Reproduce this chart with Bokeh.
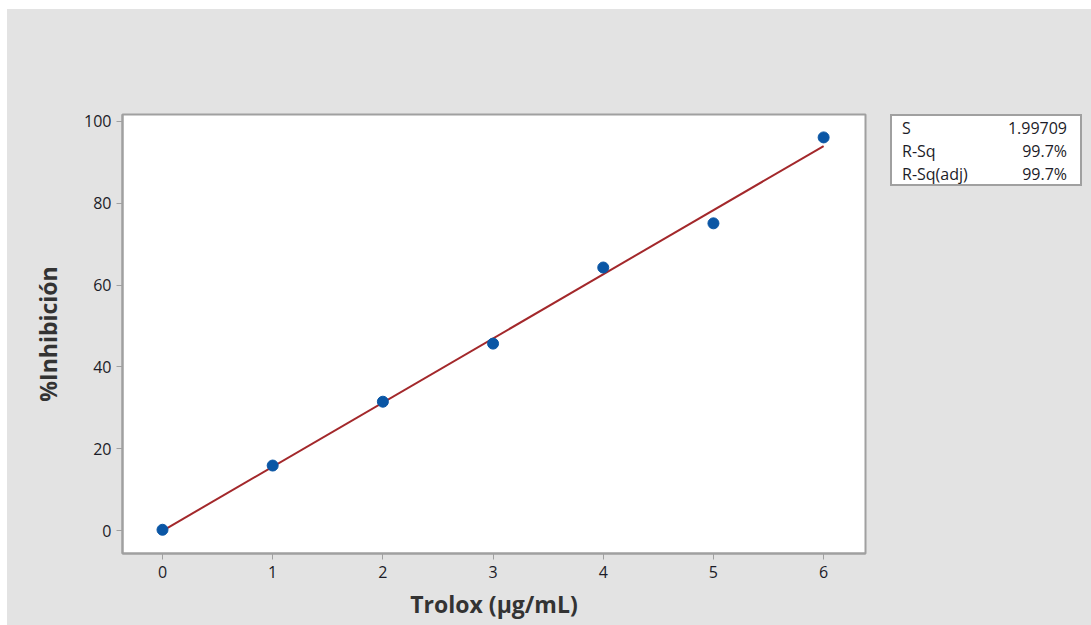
import numpy as np
from bokeh.plotting import figure
from bokeh.layouts import row
from bokeh.models import Range1d, FixedTicker, Div
from bokeh.embed import file_html
from bokeh.resources import INLINE

# Data
trolox = [0, 1, 2, 3, 4, 5, 6]
inhibicion = [0.2, 15.9, 31.5, 45.7, 64.3, 75.1, 96.1]
x_ticks = [0, 1, 2, 3, 4, 5, 6]
y_ticks = [0, 20, 40, 60, 80, 100]
stat_names = ["S", "R-Sq", "R-Sq(adj)"]
stat_values = ["1.99709", "99.7%", "99.7%"]

slope, intercept = np.polyfit(trolox, inhibicion, 1)
fit_x = [min(trolox), max(trolox)]
fit_y = [intercept + slope * v for v in fit_x]

BG = "#e3e3e3"
GRAY = "#a0a0a0"
FONT = "Open Sans"
TXT = "#1c1c28"

p = figure(frame_width=743, frame_height=439, width=882, height=616,
           min_border_left=115, min_border_right=24, min_border_top=105, min_border_bottom=72,
           x_range=Range1d(-0.363, 6.38), y_range=Range1d(-5.6, 101.7),
           output_backend="svg", toolbar_location=None)
p.background_fill_color = "white"
p.border_fill_color = BG
p.outline_line_color = GRAY
p.outline_line_width = 2
p.grid.visible = False

p.line(fit_x, fit_y, line_color="#a3282b", line_width=2)
p.scatter(trolox, inhibicion, marker="circle", size=11, fill_color="#0a56a5", line_color="#0a56a5")

for ax in (p.xaxis[0], p.yaxis[0]):
    ax.axis_line_color = GRAY
    ax.axis_line_width = 2
    ax.major_tick_line_color = GRAY
    ax.major_tick_out = 6
    ax.major_tick_in = 0
    ax.minor_tick_line_color = None
    ax.major_label_text_font = FONT
    ax.major_label_text_font_size = "16px"
    ax.major_label_text_color = TXT
    ax.axis_label_text_font = FONT
    ax.axis_label_text_font_size = "23px"
    ax.axis_label_text_font_style = "bold"
    ax.axis_label_text_color = "#333333"

p.xaxis.ticker = FixedTicker(ticks=x_ticks)
p.yaxis.ticker = FixedTicker(ticks=y_ticks)
p.xaxis.axis_label = "Trolox (µg/mL)"
p.yaxis.axis_label = "%Inhibición"
p.xaxis.major_label_standoff = 6
p.xaxis.axis_label_standoff = 7
p.yaxis.major_label_standoff = 5
p.yaxis.axis_label_standoff = 17

# Statistics box as an HTML table
rows_html = "".join(
    f'<tr><td style="text-align:left;padding:0;">{n}</td>'
    f'<td style="text-align:right;padding:0;">{v}</td></tr>'
    for n, v in zip(stat_names, stat_values)
)
box_html = (
    f'<div style="margin:105px 0 0 1px;width:192px;height:72px;box-sizing:border-box;'
    f'background:white;border:2px solid {GRAY};padding:0 13px 0 10px;'
    f'font-family:\'{FONT}\';font-size:16px;color:{TXT};">'
    f'<table style="width:100%;border-collapse:collapse;line-height:23px;'
    f'font-family:\'{FONT}\';font-size:16px;color:{TXT};margin-top:1px;">'
    f'{rows_html}</table></div>'
)
stats = Div(text=box_html, width=202, height=616, margin=(0, 0, 0, 0))

layout = row(p, stats, spacing=0)
layout.margin = (9, 0, 0, 7)
layout.styles = {"background-color": BG}
open("out.html", "w").write(file_html(layout, INLINE))
